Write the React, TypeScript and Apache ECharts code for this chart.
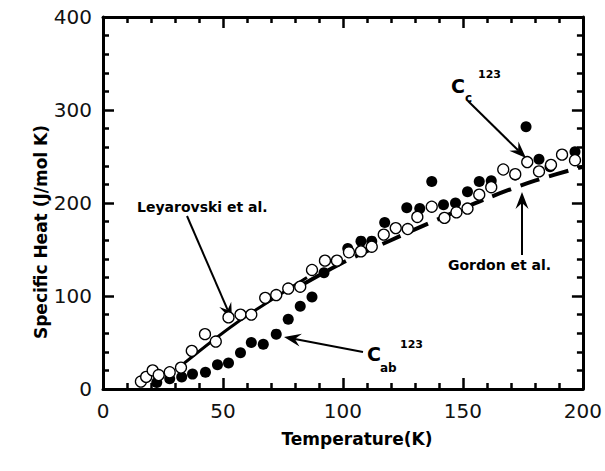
import React, { useEffect, useRef } from "react";
import * as echarts from "echarts";

// Axis ranges and tick labels
const tempTicks = [0, 50, 100, 150, 200];
const heatTicks = [0, 100, 200, 300, 400];

// C_c (open circles): temperature (K) and specific heat (J/mol K)
const ccTemp = [15.8, 18, 20.7, 23.2, 27.8, 32.5, 37, 42.5, 47, 52.3, 57.3, 61.8, 67.6, 72.2, 77.2, 82.2, 87.1, 92.5, 97.5, 102.5, 107.5, 112, 117, 122, 127, 131, 137, 142.3, 147.3, 151.9, 156.8, 161.8, 166.8, 171.8, 176.8, 181.7, 186.7, 191.3, 196.7];
const ccHeat = [8, 13, 20, 15, 18, 23, 41, 59, 51, 77, 80, 80, 98, 101, 108, 110, 128, 138, 138, 147, 148, 153, 166, 173, 172, 185, 196, 184, 190, 194, 209, 217, 236, 231, 244, 234, 241, 252, 246];

// C_ab (filled circles)
const cabTemp = [22.4, 27.8, 32.8, 37.3, 42.7, 47.7, 52.3, 57.3, 61.8, 66.8, 72.2, 77.2, 82.2, 87.1, 92.1, 102, 107.5, 112, 117.4, 126.6, 132, 137, 141.9, 146.9, 151.9, 156.8, 161.8, 171.8, 176.3, 181.7, 186.3, 196.7];
const cabHeat = [7, 11, 13, 16, 18, 26, 28, 39, 50, 48, 59, 75, 89, 99, 125, 151, 159, 159, 179, 195, 194, 223, 198, 200, 212, 223, 224, 230, 282, 247, 239, 255];

// Leyarovski et al. (solid curve)
const leyTemp = [32, 55, 85];
const leyHeat = [24, 70, 120];

// Gordon et al. (dashed curve)
const gordonTemp = [83, 100, 120, 140, 160, 180, 200];
const gordonHeat = [112, 136, 160, 183, 205, 224, 239];

const zip = (a: number[], b: number[]) => a.map((v, i) => [v, b[i]]);

const LABEL_FONT = "DejaVu Sans";

function arrow(x1: number, y1: number, x2: number, y2: number) {
  const dx = x2 - x1;
  const dy = y2 - y1;
  const len = Math.sqrt(dx * dx + dy * dy);
  const ux = dx / len;
  const uy = dy / len;
  const px = -uy;
  const py = ux;
  const headLen = 17;
  const notch = 11;
  const half = 6.5;
  const bx = x2 - ux * headLen;
  const by = y2 - uy * headLen;
  const nx = x2 - ux * notch;
  const ny = y2 - uy * notch;
  return [
    {
      type: "line",
      shape: { x1, y1, x2: nx, y2: ny },
      style: { stroke: "#000", lineWidth: 2 },
      silent: true,
    },
    {
      type: "polygon",
      shape: {
        points: [
          [x2, y2],
          [bx + px * half, by + py * half],
          [nx, ny],
          [bx - px * half, by - py * half],
        ],
      },
      style: { fill: "#000" },
      silent: true,
    },
  ];
}

function txt(x: number, y: number, text: string, size: number, align = "left") {
  return {
    type: "text",
    x,
    y,
    style: {
      text,
      font: `bold ${size}px "${LABEL_FONT}", sans-serif`,
      fill: "#000",
      textAlign: align,
      textVerticalAlign: "middle",
    },
    silent: true,
  };
}

const axisCommon = {
  type: "value" as const,
  axisLine: { show: true, onZero: false, lineStyle: { color: "#000", width: 3 } },
  axisTick: { show: true, inside: true, length: 11, lineStyle: { color: "#000", width: 2.5 } },
  minorTick: { show: true, splitNumber: 5, length: 6, lineStyle: { color: "#000", width: 2.5 } },
  splitLine: { show: false },
  minorSplitLine: { show: false },
};

const labelStyle = {
  fontFamily: LABEL_FONT,
  fontSize: 20,
  color: "#111",
};

export default function App() {
  const ref = useRef<HTMLDivElement>(null);

  useEffect(() => {
    if (!ref.current) return;
    const chart = echarts.init(ref.current, undefined, { renderer: "svg" });

    const option = {
      animation: false,
      backgroundColor: "#fff",
      grid: { left: 103, right: 20, top: 17, bottom: 82, containLabel: false },
      xAxis: [
        {
          ...axisCommon,
          position: "bottom",
          min: tempTicks[0],
          max: tempTicks[tempTicks.length - 1],
          interval: 50,
          axisLabel: { ...labelStyle, margin: 12 },
        },
        {
          ...axisCommon,
          position: "top",
          min: tempTicks[0],
          max: tempTicks[tempTicks.length - 1],
          interval: 50,
          axisLabel: { show: false },
        },
      ],
      yAxis: [
        {
          ...axisCommon,
          position: "left",
          min: heatTicks[0],
          max: heatTicks[heatTicks.length - 1],
          interval: 100,
          axisLabel: { ...labelStyle, margin: 11 },
        },
        {
          ...axisCommon,
          position: "right",
          min: heatTicks[0],
          max: heatTicks[heatTicks.length - 1],
          interval: 100,
          axisLabel: { show: false },
        },
      ],
      series: [
        {
          name: "Leyarovski et al.",
          type: "line",
          data: zip(leyTemp, leyHeat),
          symbol: "none",
          smooth: 0.3,
          lineStyle: { color: "#000", width: 3 },
          z: 2,
        },
        {
          name: "Gordon et al.",
          type: "line",
          data: zip(gordonTemp, gordonHeat),
          symbol: "none",
          smooth: 0.3,
          lineStyle: { color: "#000", width: 4, type: [20, 10], cap: "butt" },
          z: 2,
        },
        {
          name: "Cab",
          type: "scatter",
          data: zip(cabTemp, cabHeat),
          symbol: "circle",
          symbolSize: 11,
          itemStyle: { color: "#000", opacity: 1 },
          z: 3,
        },
        {
          name: "Cc",
          type: "scatter",
          data: zip(ccTemp, ccHeat),
          symbol: "circle",
          symbolSize: 11,
          itemStyle: { color: "#fff", borderColor: "#000", borderWidth: 1.3, opacity: 1 },
          z: 4,
        },
      ],
      graphic: [
        // axis titles
        {
          type: "text",
          x: 41,
          y: 232,
          rotation: Math.PI / 2,
          style: {
            text: "Specific Heat (J/mol K)",
            font: `bold 17px "${LABEL_FONT}", sans-serif`,
            fill: "#000",
            textAlign: "center",
            textVerticalAlign: "middle",
          },
          silent: true,
        },
        txt(357, 439, "Temperature(K)", 17, "center"),
        // Leyarovski annotation
        txt(137, 207, "Leyarovski et al.", 14),
        ...arrow(187, 216, 232, 320),
        // C_ab annotation
        ...arrow(363, 352, 284, 337),
        txt(367, 354, "C", 19),
        txt(380, 368, "ab", 12),
        txt(400, 344, "123", 11),
        // C_c annotation
        ...arrow(468, 101, 526, 158),
        txt(451, 86, "C", 19),
        txt(465, 98, "c", 12),
        txt(478, 74, "123", 11),
        // Gordon annotation
        txt(448, 265, "Gordon et al.", 14),
        ...arrow(522, 255, 522, 192),
      ],
    };

    chart.setOption(option as any);
    return () => chart.dispose();
  }, []);

  return (
    <div
      ref={ref}
      style={{ position: "absolute", left: 0, top: 0, width: 605, height: 471 }}
    />
  );
}
